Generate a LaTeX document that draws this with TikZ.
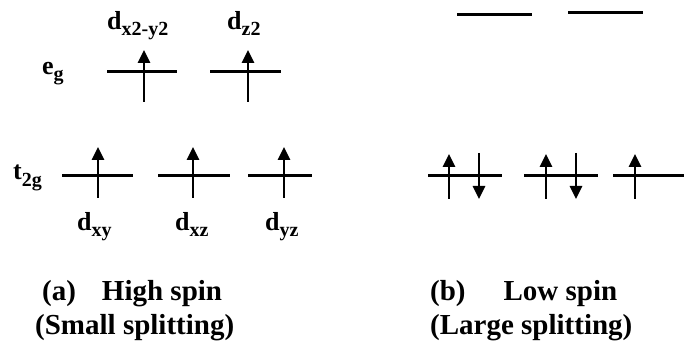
\documentclass[tikz,border=0pt]{standalone}
\usepackage{fontspec}
\setmainfont{Liberation Serif}
\usetikzlibrary{arrows.meta}
% Etichetta con pedice (testo in tondo, pedice abbassato)
\newcommand{\orb}[2]{#1\raisebox{-6pt}{\fontsize{20}{20}\selectfont #2}}

\begin{document}
\begin{tikzpicture}[x=1pt, y=-1pt, >={Triangle[length=13pt,width=12pt]}]
% Stili per livelli, spin ed etichette
\tikzset{livello/.style={line width=3pt},
  spin/.style={->, line width=2.6pt},
  etich/.style={inner sep=0pt, anchor=base west, font=\bfseries\fontsize{26}{28}\selectfont},
  didasc/.style={inner sep=0pt, anchor=base west, font=\bfseries\fontsize{29}{31}\selectfont}}

\useasboundingbox (0,0) rectangle (684,347);

% Quote dei livelli
\def\yeg{72}     % e_g alto spin
\def\yt{176}     % t_2g (entrambi i casi)

% --- (a) ALTO SPIN ---
% Livelli e_g
\draw[livello] (107,\yeg) -- (177,\yeg);
\draw[livello] (210,\yeg) -- (281,\yeg);
% Livelli t_2g
\draw[livello] (62,\yt) -- (133,\yt);
\draw[livello] (158,\yt) -- (230,\yt);
\draw[livello] (248,\yt) -- (312,\yt);

% Un elettrone per orbitale (spin su)
\foreach \x/\n in {144/1, 248/2} {
    \coordinate (eu\n) at (\x,102);
    \coordinate (ea\n) at (\x,50);
    \draw[spin] (eu\n) -- (ea\n);
}
\foreach \x/\n in {98/1, 193/2, 284/3} {
    \coordinate (tu\n) at (\x,198);
    \coordinate (ta\n) at (\x,147);
    \draw[spin] (tu\n) -- (ta\n);
}

% Etichette degli orbitali
\node[etich] (dx2y2) at (107,30) {\orb{d}{x2-y2}};
\node[etich] (dz2) at (227,30) {\orb{d}{z2}};
\node[etich] (eg) at (42,75) {\orb{e}{g}};
\node[etich] (t2g) at (13,180) {\orb{t}{2g}};
\node[etich] (dxy) at (77,230) {\orb{d}{xy}};
\node[etich] (dxz) at (175,230) {\orb{d}{xz}};
\node[etich] (dyz) at (265,230) {\orb{d}{yz}};

% --- (b) BASSO SPIN ---
% Livelli e_g vuoti
\draw[livello] (457,15) -- (532,15);
\draw[livello] (568,13) -- (643,13);
% Livelli t_2g
\draw[livello] (428,\yt) -- (502,\yt);
\draw[livello] (524,\yt) -- (598,\yt);
\draw[livello] (613,\yt) -- (684,\yt);

% Coppie di elettroni (su e giu') e l'elettrone spaiato
\foreach \x/\n in {449/1, 546/2, 635/3} {
    \coordinate (bu\n) at (\x,199);
    \coordinate (ba\n) at (\x,154);
    \draw[spin] (bu\n) -- (ba\n);
}
\foreach \x/\n in {479/1, 576/2} {
    \coordinate (gu\n) at (\x,153);
    \coordinate (ga\n) at (\x,199);
    \draw[spin] (gu\n) -- (ga\n);
}

% --- DIDASCALIE ---
\node[didasc] (capA1) at (42,300) {(a)\hspace{26pt}High spin};
\node[didasc] (capA2) at (35,334) {(Small splitting)};
\node[didasc] (capB1) at (430,300) {(b)\hspace{38pt}Low spin};
\node[didasc] (capB2) at (430,334) {(Large splitting)};

\end{tikzpicture}
\end{document}
